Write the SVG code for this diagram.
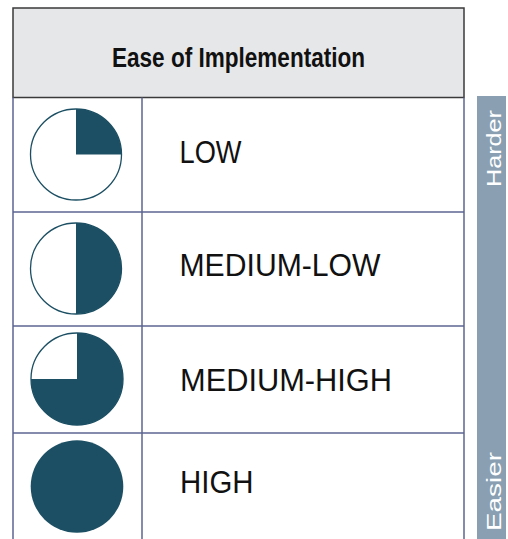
<svg xmlns="http://www.w3.org/2000/svg" width="508" height="539" viewBox="0 0 508 539">
<style>
.grid{stroke:#5b6590;stroke-width:1.5;fill:none}
.pie{fill:#1c4f63}
.ring{fill:#fff;stroke:#1c4f63;stroke-width:1.3}
.lbl{font-family:"Liberation Sans",Arial,sans-serif;font-size:32px;fill:#111}
.side{font-family:"Liberation Sans",Arial,sans-serif;font-size:21px;fill:#fff}
</style>
<rect x="0" y="0" width="508" height="539" fill="#fff"/>
<g id="header">
<rect x="13" y="8" width="451" height="89.5" fill="#e6e7e9" stroke="#3a3a3a" stroke-width="1.5"/>
<text x="112" y="67" font-family="'Liberation Sans',Arial,sans-serif" font-size="27" font-weight="bold" fill="#111" textLength="253" lengthAdjust="spacingAndGlyphs">Ease of Implementation</text>
</g>
<g id="grid-lines">
<line class="grid" x1="13" y1="97.5" x2="13" y2="539"/>
<line class="grid" x1="142" y1="97.5" x2="142" y2="539"/>
<line class="grid" x1="464" y1="97.5" x2="464" y2="539"/>
<line class="grid" x1="13" y1="212" x2="464" y2="212"/>
<line class="grid" x1="13" y1="326" x2="464" y2="326"/>
<line class="grid" x1="13" y1="433" x2="464" y2="433"/>
</g>
<g id="row-low">
<circle class="ring" cx="76" cy="154.5" r="45.5"/>
<path class="pie" d="M76,154.5 V109 A45.5,45.5 0 0 1 121.5,154.5 Z"/>
<text class="lbl" x="179.5" y="162.5" textLength="62" lengthAdjust="spacingAndGlyphs">LOW</text>
</g>
<g id="row-medium-low">
<circle class="ring" cx="76" cy="268.5" r="45.5"/>
<path class="pie" d="M76,223 A45.5,45.5 0 0 1 76,314 Z"/>
<text class="lbl" x="179.5" y="275.5" textLength="201" lengthAdjust="spacingAndGlyphs">MEDIUM-LOW</text>
</g>
<g id="row-medium-high">
<circle class="ring" cx="77" cy="379" r="46"/>
<path class="pie" d="M77,379 H31 A46,46 0 1 0 77,333 Z"/>
<text class="lbl" x="180" y="390.7" textLength="212" lengthAdjust="spacingAndGlyphs">MEDIUM-HIGH</text>
</g>
<g id="row-high">
<circle class="pie" cx="77" cy="486.5" r="46.3"/>
<text class="lbl" x="180" y="493" textLength="73.5" lengthAdjust="spacingAndGlyphs">HIGH</text>
</g>
<g id="scale-bar">
<rect x="477" y="96" width="29" height="443" fill="#8aa0b2"/>
<text class="side" transform="translate(501,187) rotate(-90)" textLength="77" lengthAdjust="spacingAndGlyphs">Harder</text>
<text class="side" transform="translate(501,531) rotate(-90)" textLength="79" lengthAdjust="spacingAndGlyphs">Easier</text>
</g>
</svg>
